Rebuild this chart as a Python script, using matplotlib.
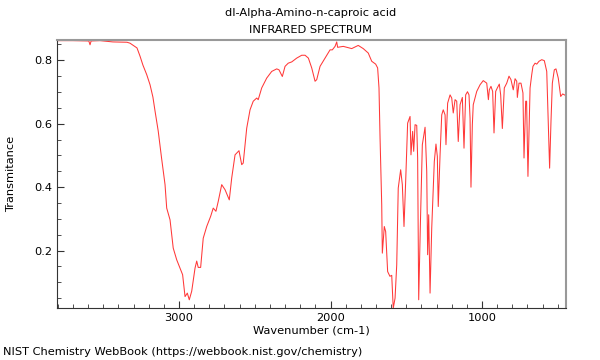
#!/usr/bin/env python3
"""IR spectrum of dl-Alpha-Amino-n-caproic acid, NIST WebBook style."""
import matplotlib
matplotlib.use("Agg")
import matplotlib.pyplot as plt
from matplotlib.ticker import MultipleLocator

# wavenumber (cm-1) and transmittance
wavenumber = [
    3805, 3700, 3595, 3587, 3580, 3521, 3436, 3343, 3323, 3277, 3257, 3238,
    3213, 3191, 3172, 3158, 3137, 3115, 3092, 3081, 3059, 3038, 3015, 2993,
    2976, 2960, 2945, 2932, 2916, 2894, 2883, 2873, 2857, 2840, 2817, 2791,
    2774, 2756, 2741, 2718, 2696, 2668, 2652, 2630, 2604, 2586, 2576, 2553,
    2531, 2510, 2487, 2477, 2454, 2421, 2388, 2355, 2340, 2318, 2300, 2279,
    2256, 2223, 2190, 2168, 2146, 2124, 2102, 2091, 2069, 2036, 2003, 1988,
    1970, 1959, 1953, 1916, 1860, 1817, 1784, 1751, 1728, 1702, 1689, 1680,
    1673, 1662, 1658, 1645, 1636, 1623, 1608, 1596, 1586, 1574, 1563, 1553,
    1537, 1526, 1515, 1504, 1491, 1475, 1469, 1458, 1451, 1442, 1431, 1425,
    1418, 1407, 1394, 1376, 1365, 1359, 1352, 1343, 1332, 1315, 1304, 1295,
    1289, 1277, 1266, 1256, 1244, 1238, 1227, 1211, 1200, 1190, 1178, 1167,
    1157, 1145, 1130, 1119, 1108, 1096, 1086, 1079, 1073, 1064, 1058, 1035,
    1013, 992, 969, 958, 952, 941, 930, 921, 910, 899, 886, 877,
    866, 853, 837, 822, 809, 794, 782, 771, 767, 756, 743, 730,
    723, 712, 706, 697, 683, 672, 664, 650, 639, 624, 606, 589,
    573, 563, 554, 545, 536, 523, 512, 497, 481, 468, 452,
]
transmittance = [
    0.862, 0.862, 0.861, 0.849, 0.861, 0.862, 0.858, 0.857, 0.854, 0.839, 0.813, 0.785,
    0.755, 0.723, 0.684, 0.640, 0.577, 0.492, 0.408, 0.334, 0.297, 0.208, 0.171, 0.145,
    0.124, 0.055, 0.066, 0.045, 0.072, 0.145, 0.167, 0.147, 0.147, 0.239, 0.276, 0.308,
    0.334, 0.324, 0.355, 0.408, 0.392, 0.360, 0.429, 0.502, 0.515, 0.471, 0.476, 0.586,
    0.644, 0.671, 0.681, 0.676, 0.713, 0.744, 0.765, 0.773, 0.770, 0.749, 0.781, 0.791,
    0.795, 0.807, 0.816, 0.816, 0.807, 0.776, 0.734, 0.739, 0.781, 0.807, 0.833, 0.833,
    0.844, 0.858, 0.841, 0.844, 0.837, 0.847, 0.837, 0.823, 0.797, 0.788, 0.776, 0.713,
    0.555, 0.344, 0.192, 0.276, 0.260, 0.134, 0.119, 0.122, 0.018, 0.050, 0.155, 0.397,
    0.455, 0.408, 0.276, 0.418, 0.602, 0.623, 0.502, 0.576, 0.513, 0.597, 0.595, 0.492,
    0.045, 0.281, 0.534, 0.589, 0.450, 0.187, 0.313, 0.066, 0.271, 0.481, 0.536, 0.497,
    0.339, 0.502, 0.628, 0.644, 0.628, 0.534, 0.665, 0.691, 0.681, 0.634, 0.676, 0.671,
    0.544, 0.660, 0.683, 0.523, 0.691, 0.701, 0.691, 0.617, 0.400, 0.597, 0.660, 0.702,
    0.723, 0.736, 0.728, 0.676, 0.707, 0.718, 0.702, 0.571, 0.702, 0.713, 0.725, 0.691,
    0.585, 0.713, 0.728, 0.750, 0.739, 0.707, 0.742, 0.734, 0.683, 0.728, 0.728, 0.697,
    0.492, 0.671, 0.671, 0.434, 0.713, 0.755, 0.781, 0.791, 0.788, 0.797, 0.802, 0.799,
    0.765, 0.607, 0.460, 0.607, 0.728, 0.770, 0.773, 0.744, 0.686, 0.694, 0.690,
]

x_ticks = [3000, 2000, 1000]
y_ticks = [0.2, 0.4, 0.6, 0.8]
FS = 8.2


def main():
    fig = plt.figure(figsize=(6, 3.6), dpi=100)
    ax = fig.add_axes([0.0955, 0.1453, 0.8473, 0.7444])
    ax.plot(wavenumber, transmittance, color="#ff3838", lw=0.75)
    ax.set_xlim(3803, 448)
    ax.set_ylim(0.02, 0.865)

    ax.set_xticks(x_ticks)
    ax.set_yticks(y_ticks)
    ax.xaxis.set_minor_locator(MultipleLocator(100))
    ax.yaxis.set_minor_locator(MultipleLocator(0.05))
    ax.tick_params(which="both", direction="in", top=False, right=False,
                   labelsize=FS, color="#333333")
    ax.tick_params(which="major", length=5)
    ax.tick_params(which="minor", length=3)

    for s in ("top", "right"):
        ax.spines[s].set_color("#999999")
        ax.spines[s].set_linewidth(1.5)
    for s in ("left", "bottom"):
        ax.spines[s].set_color("#333333")

    ax.set_xlabel("Wavenumber (cm-1)", fontsize=FS)
    ax.set_ylabel("Transmitance", fontsize=FS)
    ax.xaxis.set_label_coords(0.5, -0.065)
    ax.yaxis.set_label_coords(-0.081, 0.5)

    fig.text(0.518, 0.963, "dl-Alpha-Amino-n-caproic acid", ha="center", va="center", fontsize=FS)
    fig.text(0.518, 0.916, "INFRARED SPECTRUM", ha="center", va="center", fontsize=FS)
    fig.text(0.005, 0.022, "NIST Chemistry WebBook (https://webbook.nist.gov/chemistry)",
             ha="left", va="center", fontsize=FS)

    fig.savefig("out.png", dpi=100)


if __name__ == "__main__":
    main()
